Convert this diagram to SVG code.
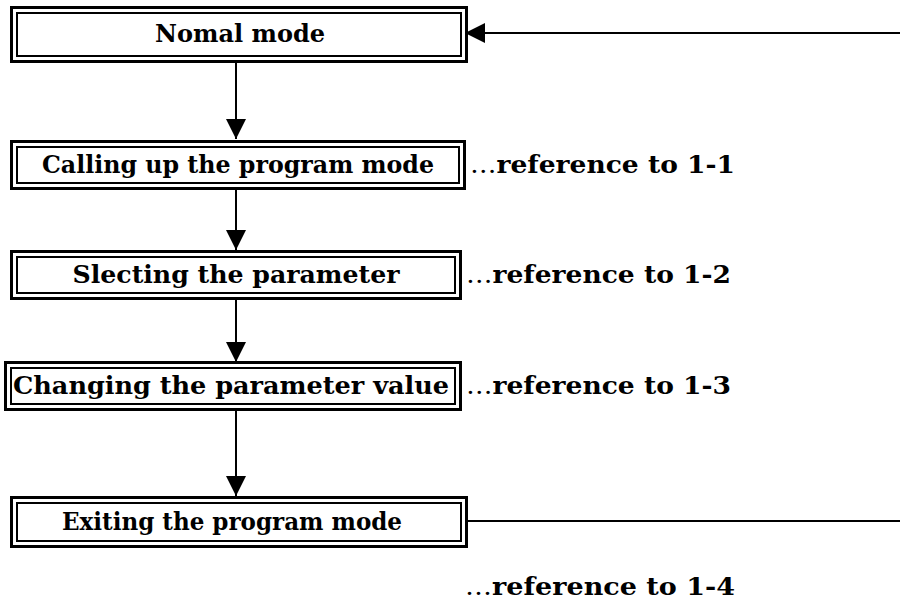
<svg xmlns="http://www.w3.org/2000/svg" width="900" height="603" viewBox="0 0 900 603">
<style>
.o{fill:none;stroke:#000;stroke-width:3}
.i{fill:none;stroke:#000;stroke-width:2}
.t{font-family:"DejaVu Serif","Liberation Serif",serif;font-weight:bold;font-size:24px;fill:#000}
.r{font-family:"DejaVu Serif","Liberation Serif",serif;font-weight:bold;font-size:24px;fill:#000}
.e{font-weight:normal}
.c{fill:none;stroke:#000;stroke-width:2}
</style>
<defs>
<marker id="ah" markerUnits="userSpaceOnUse" markerWidth="20" markerHeight="20" refX="20" refY="10" orient="auto">
<path d="M0,0 L20,10 L0,20 Z" fill="#000"/>
</marker>
</defs>
<g id="connectors">
<line class="c" x1="900" y1="33" x2="465" y2="33" marker-end="url(#ah)"/>
<line class="c" x1="236" y1="63" x2="236" y2="139" marker-end="url(#ah)"/>
<line class="c" x1="236" y1="190" x2="236" y2="250" marker-end="url(#ah)"/>
<line class="c" x1="236" y1="299" x2="236" y2="362" marker-end="url(#ah)"/>
<line class="c" x1="236" y1="411" x2="236" y2="496" marker-end="url(#ah)"/>
<line class="c" x1="468" y1="521" x2="900" y2="521"/>
</g>
<g id="n1">
<rect class="o" x="11.5" y="7.5" width="455" height="54"/>
<rect class="i" x="17" y="13" width="444" height="43"/>
<text class="t" x="240" y="42" text-anchor="middle" textLength="170" lengthAdjust="spacingAndGlyphs">Nomal mode</text>
</g>
<g id="n2">
<rect class="o" x="11.5" y="141.5" width="453" height="47"/>
<rect class="i" x="17" y="147" width="442" height="36"/>
<text class="t" x="238" y="173" text-anchor="middle" textLength="392" lengthAdjust="spacingAndGlyphs">Calling up the program mode</text>
</g>
<text class="r" x="470" y="173" textLength="265" lengthAdjust="spacingAndGlyphs"><tspan class="e">…</tspan>reference to 1-1</text>
<g id="n3">
<rect class="o" x="11.5" y="251.5" width="449" height="47"/>
<rect class="i" x="17" y="257" width="438" height="36"/>
<text class="t" x="236" y="283" text-anchor="middle" textLength="327" lengthAdjust="spacingAndGlyphs">Slecting the parameter</text>
</g>
<text class="r" x="466" y="283" textLength="265" lengthAdjust="spacingAndGlyphs"><tspan class="e">…</tspan>reference to 1-2</text>
<g id="n4">
<rect class="o" x="5.5" y="362.5" width="455" height="47"/>
<rect class="i" x="11" y="368" width="444" height="36"/>
<text class="t" x="231" y="394" text-anchor="middle" textLength="436" lengthAdjust="spacingAndGlyphs">Changing the parameter value</text>
</g>
<text class="r" x="466" y="394" textLength="265" lengthAdjust="spacingAndGlyphs"><tspan class="e">…</tspan>reference to 1-3</text>
<g id="n5">
<rect class="o" x="11.5" y="497.5" width="455" height="49"/>
<rect class="i" x="17" y="503" width="444" height="38"/>
<text class="t" x="232" y="530" text-anchor="middle" textLength="340" lengthAdjust="spacingAndGlyphs">Exiting the program mode</text>
</g>
<text class="r" x="465" y="595" textLength="270" lengthAdjust="spacingAndGlyphs"><tspan class="e">…</tspan>reference to 1-4</text>
</svg>
